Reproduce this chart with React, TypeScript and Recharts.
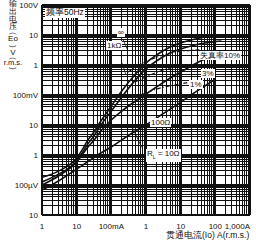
import React from "react";
import { LineChart, Line, XAxis, YAxis, ReferenceLine } from "recharts";

// axis decades (A, V) and their printed labels
const decadesX = [0.001, 0.01, 0.1, 1, 10, 100, 1000];
const xTickLabels = ["1", "10", "100mA", "1", "10", "100", "1,000A"];
const decadesY = [1e-5, 1e-4, 1e-3, 1e-2, 1e-1, 1, 10, 100];
const yTickLabels = ["10", "100µV", "1", "10", "100mV", "1", "10", "100V"];
const minorSteps = [2, 3, 4, 5, 6, 7, 8, 9];

// through current Io (A)
const current = [0.001, 0.003, 0.01, 0.015, 0.02, 0.03, 0.05, 0.1, 0.2, 0.5, 1, 2, 5, 10, 20, 50, 100, 150];

// output voltage Eo (V) per load
const eoInf = [1.8e-4, 2.9e-4, 7.9e-4, 1.6e-3, 2.9e-3, 5.4e-3, 0.0136, 0.043, 0.136, 0.5, 1.17, 2.15, 4.0, 5.4, 6.8, 8.6, 9.5, 10];
const eo1k = [1.26e-4, 2.3e-4, 6.3e-4, 1.26e-3, 2.15e-3, 4.0e-3, 0.01, 0.029, 0.086, 0.32, 0.74, 1.36, 2.5, 3.4, 4.3, 5.4, 6.0, 6.3];
const eo100 = [1.0e-4, 2.0e-4, 5.8e-4, 1.08e-3, 1.7e-3, 2.9e-3, 6.3e-3, 0.0147, 0.029, 0.063, 0.108, 0.185, 0.37, 0.58, 0.93, 1.58, 2.15];
const eo10 = [6.8e-5, 1.36e-4, 3.4e-4, 4.6e-4, 5.8e-4, 7.9e-4, 1.17e-3, 1.85e-3, 3.2e-3, 6.3e-3, 0.01, 0.017, 0.034, 0.058, 0.1, 0.2, 0.34];

// distortion contours
const dist10I = [0.3, 1.3, 6.8, 36];
const dist10V = [0.58, 1.47, 2.7, 3.2];
const dist3I = [0.48, 1.8, 9.5, 31];
const dist3V = [0.27, 0.54, 0.93, 1.0];
const dist1I = [0.67, 2.5, 9.5, 16];
const dist1V = [0.1, 0.17, 0.23, 0.26];

const toPoints = (xs: number[], ys: number[]) => ys.map((y, i) => ({ x: xs[i], y }));

const loads = [
  { key: "inf", data: toPoints(current, eoInf) },
  { key: "1k", data: toPoints(current, eo1k) },
  { key: "100", data: toPoints(current, eo100) },
  { key: "10", data: toPoints(current, eo10) },
];
const distortion = [
  { key: "d10", data: toPoints(dist10I, dist10V) },
  { key: "d3", data: toPoints(dist3I, dist3V) },
  { key: "d1", data: toPoints(dist1I, dist1V) },
];

const minorX = decadesX.slice(0, -1).flatMap((d) => minorSteps.map((m) => d * m));
const minorY = decadesY.slice(0, -1).flatMap((d) => minorSteps.map((m) => d * m));

const FONT = "'Liberation Sans', Arial, sans-serif";
const INK = "#111";

const near = (a: number, b: number) => Math.abs(a / b - 1) < 1e-6;

const XTick = (props: any) => {
  const { x, y, payload } = props;
  const i = decadesX.findIndex((d) => near(d, payload.value));
  const last = i === decadesX.length - 1;
  return (
    <text x={x} y={y + 6} textAnchor={last ? "end" : "middle"} fontSize={8} fontFamily={FONT} fill={INK}>
      {xTickLabels[i]}
    </text>
  );
};

const YTick = (props: any) => {
  const { x, y, payload } = props;
  const i = decadesY.findIndex((d) => near(d, payload.value));
  return (
    <text x={x} y={y + 3} textAnchor="end" fontSize={8} fontFamily={FONT} fill={INK}>
      {yTickLabels[i]}
    </text>
  );
};

const tag = (left: number, top: number, text: React.ReactNode, size = 8) => (
  <div
    style={{
      position: "absolute",
      left,
      top,
      fontSize: size,
      lineHeight: `${size + 1}px`,
      fontFamily: FONT,
      color: INK,
      background: "#fff",
      padding: "0 1px",
      whiteSpace: "nowrap",
    }}
  >
    {text}
  </div>
);

// vertical axis title, one glyph group per row: [text, top, size, rotated]
const yTitle: [string, number, number, boolean][] = [
  ["输", 0, 8, false],
  ["出", 8, 8, false],
  ["电", 15.5, 8, false],
  ["压", 23, 8, false],
  ["(", 30, 7, true],
  ["Eo", 35, 8, false],
  [")", 43, 7, true],
  ["V", 49, 8, false],
  ["(", 55, 7, true],
  ["r.m.s.", 59, 7.5, false],
  [")", 65, 7, true],
];

export default function App() {
  return (
    <div style={{ position: "absolute", left: 0, top: 0, width: 256, height: 244, background: "#fff" }}>
      <LineChart width={256} height={244} margin={{ top: 5, right: 6, left: 2, bottom: 0 }}>
        <XAxis
          dataKey="x"
          type="number"
          scale="log"
          domain={[0.001, 1000]}
          ticks={decadesX}
          interval={0}
          allowDataOverflow
          axisLine={false}
          tickLine={false}
          height={29}
          tick={<XTick />}
        />
        <YAxis
          dataKey="y"
          type="number"
          scale="log"
          domain={[1e-5, 100]}
          ticks={decadesY}
          interval={0}
          allowDataOverflow
          axisLine={false}
          tickLine={false}
          tickSize={0}
          tickMargin={4}
          width={40}
          tick={<YTick />}
        />
        {minorX.map((v) => (
          <ReferenceLine key={`mx${v}`} x={v} stroke={INK} strokeWidth={1} shapeRendering="crispEdges" />
        ))}
        {minorY.map((v) => (
          <ReferenceLine key={`my${v}`} y={v} stroke={INK} strokeWidth={1} shapeRendering="crispEdges" />
        ))}
        {decadesX.map((v) => (
          <ReferenceLine key={`dx${v}`} x={v} stroke={INK} strokeWidth={2} shapeRendering="crispEdges" />
        ))}
        {decadesY.map((v) => (
          <ReferenceLine key={`dy${v}`} y={v} stroke={INK} strokeWidth={2} shapeRendering="crispEdges" />
        ))}
        {loads.map((s) => (
          <Line
            key={s.key}
            data={s.data}
            dataKey="y"
            type="monotone"
            stroke={INK}
            strokeWidth={1.6}
            dot={false}
            isAnimationActive={false}
          />
        ))}
        {distortion.map((s) => (
          <Line
            key={s.key}
            data={s.data}
            dataKey="y"
            type="monotone"
            stroke={INK}
            strokeWidth={1.2}
            strokeDasharray="4 2 1 2"
            dot={false}
            isAnimationActive={false}
          />
        ))}
        <ReferenceLine segment={[{ x: 0.22, y: 7 }, { x: 0.3, y: 3 }]} stroke={INK} strokeWidth={0.8} />
        <ReferenceLine segment={[{ x: 0.2, y: 1.2 }, { x: 0.26, y: 0.5 }]} stroke={INK} strokeWidth={0.8} />
        <ReferenceLine segment={[{ x: 0.68, y: 0.07 }, { x: 0.87, y: 0.048 }]} stroke={INK} strokeWidth={0.8} />
        <ReferenceLine segment={[{ x: 0.4, y: 0.0085 }, { x: 0.75, y: 0.0018 }]} stroke={INK} strokeWidth={0.8} />
      </LineChart>
      {tag(45, 8, "频率50Hz", 8.5)}
      {tag(117, 28, "∞", 8)}
      {tag(106, 41, "1kΩ", 8)}
      {tag(199, 51, "失真率10%", 8)}
      {tag(201, 69, "3%", 8)}
      {tag(189, 80, "1%", 8)}
      {tag(150, 118, "100Ω", 8)}
      {tag(
        146,
        149,
        <span>
          R<sub style={{ fontSize: 5 }}>L</sub> = 10Ω
        </span>,
        8
      )}
      {yTitle.map(([t, top, size, rot], i) => (
        <div
          key={i}
          style={{
            position: "absolute",
            left: 2,
            top,
            width: 22,
            textAlign: "center",
            fontFamily: FONT,
            fontSize: size,
            lineHeight: `${size}px`,
            color: INK,
            whiteSpace: "nowrap",
            transform: rot ? "rotate(90deg)" : undefined,
          }}
        >
          {t}
        </div>
      ))}
      <div
        style={{
          position: "absolute",
          left: 166,
          top: 230,
          fontFamily: FONT,
          fontSize: 8.5,
          color: INK,
          whiteSpace: "nowrap",
        }}
      >
        贯通电流(Io) A(r.m.s.)
      </div>
    </div>
  );
}
